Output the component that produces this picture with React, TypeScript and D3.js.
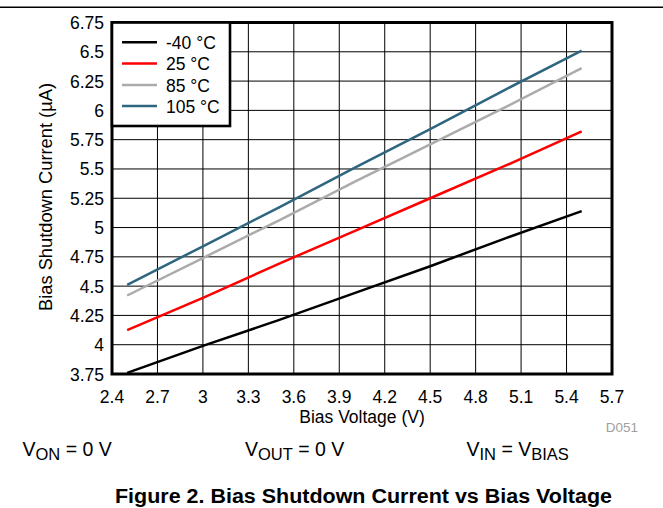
import React from "react";
import * as d3 from "d3";

const xValues = [2.5, 3.0, 3.5, 4.0, 4.5, 5.0, 5.5];
const seriesM40 = [3.76, 3.99, 4.21, 4.44, 4.67, 4.91, 5.14];
const series25 = [4.125, 4.4, 4.69, 4.97, 5.25, 5.53, 5.82];
const series85 = [4.42, 4.74, 5.06, 5.39, 5.71, 6.03, 6.36];
const series105 = [4.51, 4.84, 5.17, 5.51, 5.84, 6.18, 6.51];
const seriesNames = ["-40 °C", "25 °C", "85 °C", "105 °C"];
const seriesColors = ["#000000", "#FF0000", "#ABABAB", "#2E6680"];
const xTicks = [2.4, 2.7, 3.0, 3.3, 3.6, 3.9, 4.2, 4.5, 4.8, 5.1, 5.4, 5.7];
const xTickLabels = ["2.4", "2.7", "3", "3.3", "3.6", "3.9", "4.2", "4.5", "4.8", "5.1", "5.4", "5.7"];
const yTicks = [3.75, 4, 4.25, 4.5, 4.75, 5, 5.25, 5.5, 5.75, 6, 6.25, 6.5, 6.75];
const yTickLabels = ["3.75", "4", "4.25", "4.5", "4.75", "5", "5.25", "5.5", "5.75", "6", "6.25", "6.5", "6.75"];

const FONT = "'Liberation Sans', Arial, Helvetica, sans-serif";

export default function App() {
  const W = 663;
  const H = 508;
  const left = 112;
  const right = 612;
  const top = 22.5;
  const bottom = 374;
  const x = d3.scaleLinear().domain([2.4, 5.7]).range([left, right]);
  const y = d3.scaleLinear().domain([3.75, 6.75]).range([bottom, top]);
  const allSeries = [seriesM40, series25, series85, series105];
  const line = d3
    .line<number>()
    .x((_, i) => x(xValues[i]))
    .y((d) => y(d));

  const legendRows = [42.3, 63.5, 85, 106];

  return (
    <svg
      width={W}
      height={H}
      style={{ position: "absolute", left: 0, top: 0, background: "#fff" }}
      fontFamily={FONT}
    >
      <rect x={0} y={0} width={W} height={H} fill="#fff" />
      <line x1={0} x2={W} y1={7.3} y2={7.3} stroke="#000" strokeWidth={1.4} />

      {/* grid */}
      {xTicks.map((t, i) => (
        <line key={"gx" + i} x1={x(t)} x2={x(t)} y1={top} y2={bottom} stroke="#000" strokeWidth={1} />
      ))}
      {yTicks.map((t, i) => (
        <line key={"gy" + i} x1={left} x2={right} y1={y(t)} y2={y(t)} stroke="#000" strokeWidth={1} />
      ))}

      {/* data */}
      {allSeries.map((s, i) => (
        <path key={"s" + i} d={line(s) || ""} fill="none" stroke={seriesColors[i]} strokeWidth={2.5} />
      ))}

      {/* frame */}
      <rect x={left} y={top} width={right - left} height={bottom - top} fill="none" stroke="#000" strokeWidth={3} />

      {/* legend */}
      <rect x={left} y={top} width={118} height={103.5} fill="#fff" stroke="#000" strokeWidth={2.6} />
      {seriesNames.map((n, i) => (
        <g key={"lg" + i}>
          <line x1={122} x2={157} y1={legendRows[i]} y2={legendRows[i]} stroke={seriesColors[i]} strokeWidth={2.5} />
          <text x={166} y={legendRows[i] + 6.5} fontSize={17.5} fill="#000">
            {n}
          </text>
        </g>
      ))}

      {/* tick labels */}
      {xTicks.map((t, i) => (
        <text key={"xl" + i} x={x(t)} y={402.5} fontSize={17.5} textAnchor="middle" fill="#000">
          {xTickLabels[i]}
        </text>
      ))}
      {yTicks.map((t, i) => (
        <text key={"yl" + i} x={104} y={y(t) + 6.5} fontSize={17.5} textAnchor="end" fill="#000">
          {yTickLabels[i]}
        </text>
      ))}

      {/* axis titles */}
      <text x={362} y={422.5} fontSize={17.5} textAnchor="middle" fill="#000">
        Bias Voltage (V)
      </text>
      <text
        transform={`translate(51.5,197) rotate(-90)`}
        fontSize={18.3}
        textAnchor="middle"
        fill="#000"
      >
        Bias Shutdown Current (µA)
      </text>

      <text x={638} y={431.5} fontSize={13.5} textAnchor="end" fill="#A0A0A0">
        D051
      </text>

      {/* conditions */}
      <text x={22.5} y={456} fontSize={19.5} fill="#000">
        <tspan>V</tspan>
        <tspan fontSize={16.5} dy={4}>ON</tspan>
        <tspan dy={-4}> = 0 V</tspan>
      </text>
      <text x={245} y={456} fontSize={19.5} fill="#000">
        <tspan>V</tspan>
        <tspan fontSize={16.5} dy={4}>OUT</tspan>
        <tspan dy={-4}> = 0 V</tspan>
      </text>
      <text x={466.5} y={456} fontSize={19.5} fill="#000">
        <tspan>V</tspan>
        <tspan fontSize={16.5} dy={4}>IN</tspan>
        <tspan dy={-4}> = V</tspan>
        <tspan fontSize={16.5} dy={4}>BIAS</tspan>
      </text>

      <text x={115} y={503} fontSize={20} fontWeight="bold" fill="#000" textLength={497} lengthAdjust="spacingAndGlyphs">
        Figure 2. Bias Shutdown Current vs Bias Voltage
      </text>
    </svg>
  );
}
